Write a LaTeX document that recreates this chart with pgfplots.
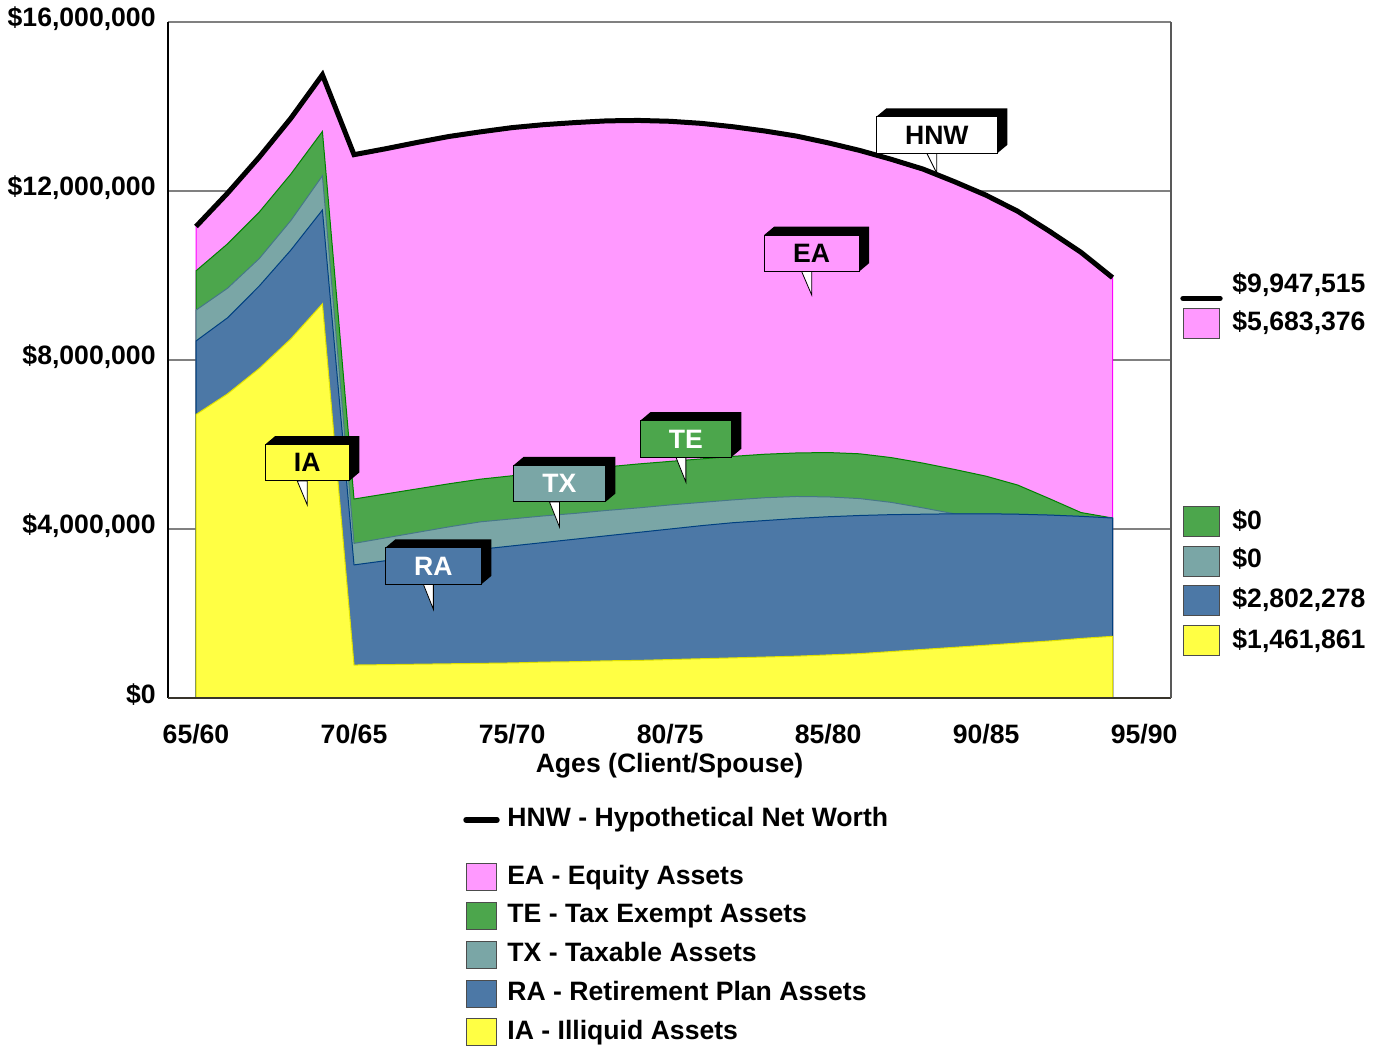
\documentclass[border=0pt]{standalone}
\usepackage{pgfplots}
\pgfplotsset{compat=1.18}
\usepackage{pgfplotstable}
\usepackage{fontspec}
\setmainfont{Liberation Sans}
\definecolor{eaC}{RGB}{255,153,255}
\definecolor{eaD}{RGB}{255,0,255}
\definecolor{teC}{RGB}{76,166,76}
\definecolor{teD}{RGB}{0,128,0}
\definecolor{txC}{RGB}{122,166,166}
\definecolor{txD}{RGB}{70,120,135}
\definecolor{raC}{RGB}{76,120,166}
\definecolor{raD}{RGB}{0,64,128}
\definecolor{iaC}{RGB}{255,255,68}
\definecolor{iaD}{RGB}{225,225,0}
\definecolor{gridC}{RGB}{128,128,128}

% cumulative tops (millions): IA, IA+RA, +TX, +TE, HNW (=+EA)
\pgfplotstableread{
i  ia   ra    tx    te    hnw
0  6.71 8.45  9.18  10.11 11.16
1  7.20 9.00  9.70  10.75 11.95
2  7.80 9.75  10.40 11.50 12.80
3  8.50 10.60 11.30 12.40 13.72
4  9.33 11.55 12.36 13.41 14.75
5  0.78 3.15  3.66  4.71  12.86
6  0.79 3.25  3.79  4.83  13.00
7  0.80 3.34  3.92  4.95  13.15
8  0.81 3.43  4.05  5.07  13.29
9  0.82 3.52  4.17  5.18  13.40
10 0.83 3.60  4.24  5.26  13.50
11 0.85 3.68  4.31  5.33  13.57
12 0.86 3.76  4.37  5.40  13.62
13 0.88 3.84  4.44  5.47  13.66
14 0.89 3.92  4.50  5.54  13.67
15 0.91 4.00  4.57  5.60  13.65
16 0.93 4.08  4.63  5.66  13.60
17 0.95 4.15  4.69  5.72  13.52
18 0.97 4.20  4.74  5.77  13.42
19 0.99 4.25  4.77  5.80  13.30
20 1.02 4.29  4.76  5.81  13.14
21 1.05 4.32  4.72  5.78  12.96
22 1.10 4.34  4.63  5.69  12.75
23 1.15 4.35  4.50  5.56  12.52
24 1.20 4.36  4.36  5.41  12.22
25 1.25 4.36  4.36  5.25  11.90
26 1.30 4.35  4.35  5.04  11.52
27 1.35 4.33  4.33  4.72  11.05
28 1.41 4.30  4.30  4.39  10.55
29 1.46 4.26  4.26  4.26  9.95
}\data

\newcommand{\bigfont}{\fontsize{13.3}{15}\selectfont\bfseries}
% #1 tip coordinate, #2 text, #3 fill, #4 text colour, #5 width, #6 pointer length
\newcommand{\callout}[6]{%
  \filldraw[fill=white,draw=black,line width=0.4pt] (#1) -- ++(-5pt,#6) -- ++(5pt,0pt) -- cycle;
  \fill[black] (#1) ++({-0.5*#5},{#6+18.25pt}) -- ++(5pt,4.2pt) -- ++(#5,0pt) -- ++(0pt,-18.25pt) -- ++(-5pt,-4.2pt) -- ++(0pt,18.25pt) -- cycle;
  \filldraw[fill=#3,draw=black,line width=0.5pt] (#1) ++({-0.5*#5},#6) rectangle ++(#5,18.25pt);
  \path (#1) ++(0pt,{#6+9.1pt}) node[text=#4,font=\bigfont,inner sep=0pt] {#2};
}

\begin{document}
\begin{tikzpicture}
\useasboundingbox (0,0) rectangle (692.5pt,523pt);
\begin{axis}[
  at={(84pt,174pt)}, anchor=south west,
  scale only axis, width=501.5pt, height=338pt,
  xmin=-0.886, xmax=30.85, ymin=0, ymax=16,
  xtick={0,5,...,30},
  xticklabels={65/60,70/65,75/70,80/75,85/80,90/85,95/90},
  ytick={0,4,8,12,16},
  yticklabels={{\$0},{\$4,000,000},{\$8,000,000},{\$12,000,000},{\$16,000,000}},
  ymajorgrids, grid style={gridC, line width=0.75pt},
  axis line style={draw=none},
  major tick length=0pt,
  /pgf/number format/assume math mode=true,
  yticklabel style={font=\bigfont, inner sep=0pt, anchor=east, xshift=-6pt, yshift=1.5pt},
  xticklabel style={font=\bigfont, inner sep=0pt, anchor=north, yshift=-13pt},
  clip=false,
]
\addplot[fill=eaC, draw=eaD, line width=0.5pt] table[x=i,y=hnw]{\data} \closedcycle;
\addplot[fill=teC, draw=teD, line width=0.5pt] table[x=i,y=te]{\data} \closedcycle;
\addplot[fill=txC, draw=txD, line width=0.5pt] table[x=i,y=tx]{\data} \closedcycle;
\addplot[fill=raC, draw=raD, line width=0.5pt] table[x=i,y=ra]{\data} \closedcycle;
\addplot[fill=iaC, draw=iaD, line width=0.5pt] table[x=i,y=ia]{\data} \closedcycle;
\addplot[black, line width=2.5pt] table[x=i,y=hnw]{\data};
\draw[black, line width=0.75pt] (rel axis cs:0,1) -- (rel axis cs:0,0);
\draw[black!80!olive, line width=0.75pt] (rel axis cs:0,0) -- (rel axis cs:1,0);
\draw[black!65, line width=0.75pt] (rel axis cs:1,0) -- (rel axis cs:1,1);
\coordinate (cHNW) at (axis cs:23.44,12.42);
\coordinate (cEA) at (axis cs:19.48,9.54);
\coordinate (cIA) at (axis cs:3.52,4.57);
\coordinate (cRA) at (axis cs:7.51,2.10);
\coordinate (cTX) at (axis cs:11.50,4.05);
\coordinate (cTE) at (axis cs:15.50,5.11);
\end{axis}
\callout{cHNW}{HNW}{white}{black}{60.5pt}{10pt}
\callout{cEA}{EA}{eaC}{black}{47.5pt}{11.7pt}
\callout{cIA}{IA}{iaC}{black}{42pt}{12pt}
\callout{cRA}{RA}{raC}{white}{48pt}{12.5pt}
\callout{cTX}{TX}{txC}{white}{46pt}{12.5pt}
\callout{cTE}{TE}{teC}{white}{45.5pt}{12.5pt}

\node[font=\bigfont, inner sep=0pt, anchor=base] at (334.75pt,137pt) {Ages (Client/Spouse)};

% right-hand values
\draw[black, line width=2.7pt, line cap=round] (591.5pt,373.8pt) -- (610pt,373.8pt);
\node[font=\bigfont, inner sep=0pt, anchor=base west] at (616pt,377pt) {\$9,947,515};
\filldraw[fill=eaC, draw=black!70, line width=0.5pt] (591.7pt,353.9pt) rectangle (609.7pt,368.9pt);
\node[font=\bigfont, inner sep=0pt, anchor=base west] at (616pt,357.5pt) {\$5,683,376};
\filldraw[fill=teC, draw=black!70, line width=0.5pt] (591.7pt,255pt) rectangle (609.7pt,270pt);
\node[font=\bigfont, inner sep=0pt, anchor=base west] at (616pt,258.3pt) {\$0};
\filldraw[fill=txC, draw=black!70, line width=0.5pt] (591.7pt,235pt) rectangle (609.7pt,250pt);
\node[font=\bigfont, inner sep=0pt, anchor=base west] at (616pt,239.2pt) {\$0};
\filldraw[fill=raC, draw=black!70, line width=0.5pt] (591.7pt,215.3pt) rectangle (609.7pt,230.3pt);
\node[font=\bigfont, inner sep=0pt, anchor=base west] at (616pt,219.3pt) {\$2,802,278};
\filldraw[fill=iaC, draw=black!70, line width=0.5pt] (591.7pt,195.5pt) rectangle (609.7pt,210.5pt);
\node[font=\bigfont, inner sep=0pt, anchor=base west] at (616pt,198.8pt) {\$1,461,861};

% bottom legend
\draw[black, line width=2.7pt, line cap=round] (233pt,113pt) -- (248.5pt,113pt);
\node[font=\bigfont, inner sep=0pt, anchor=base west] at (253.5pt,110pt) {HNW - Hypothetical Net Worth};
\filldraw[fill=eaC, draw=black!70, line width=0.5pt] (233pt,77.7pt) rectangle (248pt,91.2pt);
\node[font=\bigfont, inner sep=0pt, anchor=base west] at (253.5pt,81pt) {EA - Equity Assets};
\filldraw[fill=teC, draw=black!70, line width=0.5pt] (233pt,58.3pt) rectangle (248pt,71.8pt);
\node[font=\bigfont, inner sep=0pt, anchor=base west] at (253.5pt,61.6pt) {TE - Tax Exempt Assets};
\filldraw[fill=txC, draw=black!70, line width=0.5pt] (233pt,38.9pt) rectangle (248pt,52.4pt);
\node[font=\bigfont, inner sep=0pt, anchor=base west] at (253.5pt,42.2pt) {TX - Taxable Assets};
\filldraw[fill=raC, draw=black!70, line width=0.5pt] (233pt,19.5pt) rectangle (248pt,33pt);
\node[font=\bigfont, inner sep=0pt, anchor=base west] at (253.5pt,22.8pt) {RA - Retirement Plan Assets};
\filldraw[fill=iaC, draw=black!70, line width=0.5pt] (233pt,0.1pt) rectangle (248pt,13.6pt);
\node[font=\bigfont, inner sep=0pt, anchor=base west] at (253.5pt,3.4pt) {IA - Illiquid Assets};
\end{tikzpicture}
\end{document}
